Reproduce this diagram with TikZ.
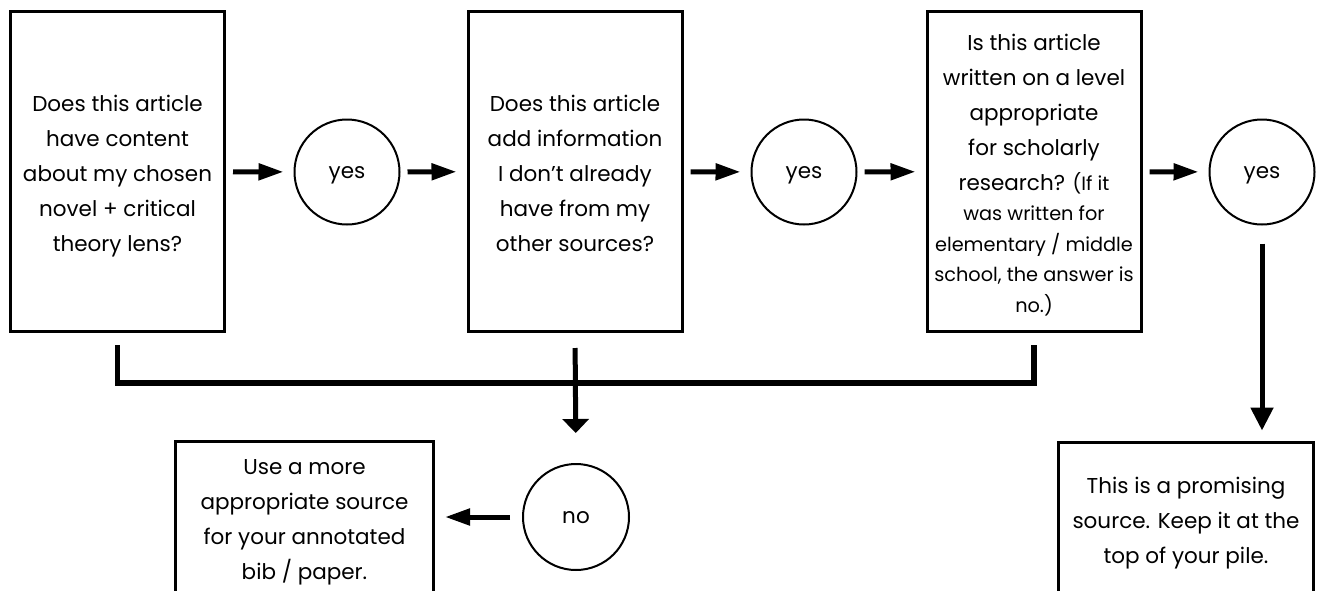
\documentclass[tikz,border=0pt]{standalone}
\usepackage{fontspec}
\setmainfont{Poppins}
\usetikzlibrary{arrows.meta}
\newcommand{\mainf}{\fontsize{21.5}{35}\selectfont}
\newcommand{\smf}{\fontsize{19.3}{30.5}\selectfont}
\newcommand{\tx}[2][4pt]{\raisebox{-#1}[\height][\depth]{\begin{tabular}{@{}c@{}}#2\end{tabular}}}
\begin{document}
\begin{tikzpicture}[x=1pt,y=-1pt,
  qbox/.style={draw, line width=3pt, inner sep=0pt, font=\mainf},
  qcirc/.style={draw, circle, line width=2pt, minimum size=105pt, inner sep=0pt, font=\mainf, text height=12pt, text depth=0pt},
  arr/.style={line width=5pt, -{Triangle[length=25pt,width=16pt]}, shorten <=7pt, shorten >=10pt},
  bar/.style={line width=5.5pt, line join=miter, line cap=rect}]
\clip (0,0) rectangle (1323,590);
\fill[white] (0,0) rectangle (1323,590);

\node[qbox, minimum width=214pt, minimum height=320pt] (b1) at (117.5,171.5)
  {\tx[2.5pt]{Does this article\\have content\\about my chosen\\novel + critical\\theory lens?}};
\node[qbox, minimum width=214pt, minimum height=320pt] (b2) at (575,171.5)
  {\tx[2.5pt]{Does this article\\add information\\I don’t already\\have from my\\other sources?}};
\node[qbox, minimum width=214pt, minimum height=320pt] (b3) at (1034,171.5)
  {\tx[2.5pt]{Is this article\\written on a level\\appropriate\\for scholarly\\research? {\smf(If it}\\[-4.5pt]
   {\smf was written for}\\[-4.5pt]{\smf elementary / middle}\\[-4.5pt]{\smf school, the answer is}\\[-4.5pt]{\smf no.)}}};

\node[qcirc] (y1) at (347,172) {yes};
\node[qcirc] (y2) at (804,172) {yes};
\node[qcirc] (y3) at (1262,172) {yes};
\node[qcirc, minimum size=106pt] (no) at (576,517) {no};

\node[qbox, minimum width=258pt, minimum height=155pt] (b4) at (304.5,518.5)
  {\tx[1pt]{Use a more\\appropriate source\\for your annotated\\bib / paper.}};
\node[qbox, minimum width=255pt, minimum height=158pt] (b5) at (1186,521)
  {\tx[0.5pt]{This is a promising\\source. Keep it at the\\top of your pile.}};

\draw[arr] (b1) -- (y1);
\draw[arr] (y1) -- (b2);
\draw[arr] (b2) -- (y2);
\draw[arr] (y2) -- (b3);
\draw[arr] (b3) -- (y3);
\draw[arr, shorten <=12pt, shorten >=10pt] (no) -- (b4.east |- no);
\draw[line width=5pt, -{Triangle[length=23pt,width=22pt]}, shorten <=18pt, shorten >=10pt] (y3) -- (y3 |- b5.north);

\coordinate (j) at (575,383);
\draw[bar, shorten <=15pt] (b1.south) |- (j);
\draw[bar, shorten <=15pt] (b3.south) |- (j);
\draw[line width=5pt, -{Triangle[length=14pt,width=26pt]}, shorten <=15pt, shorten >=30pt] (b2.south) -- (no.north);
\end{tikzpicture}
\end{document}
